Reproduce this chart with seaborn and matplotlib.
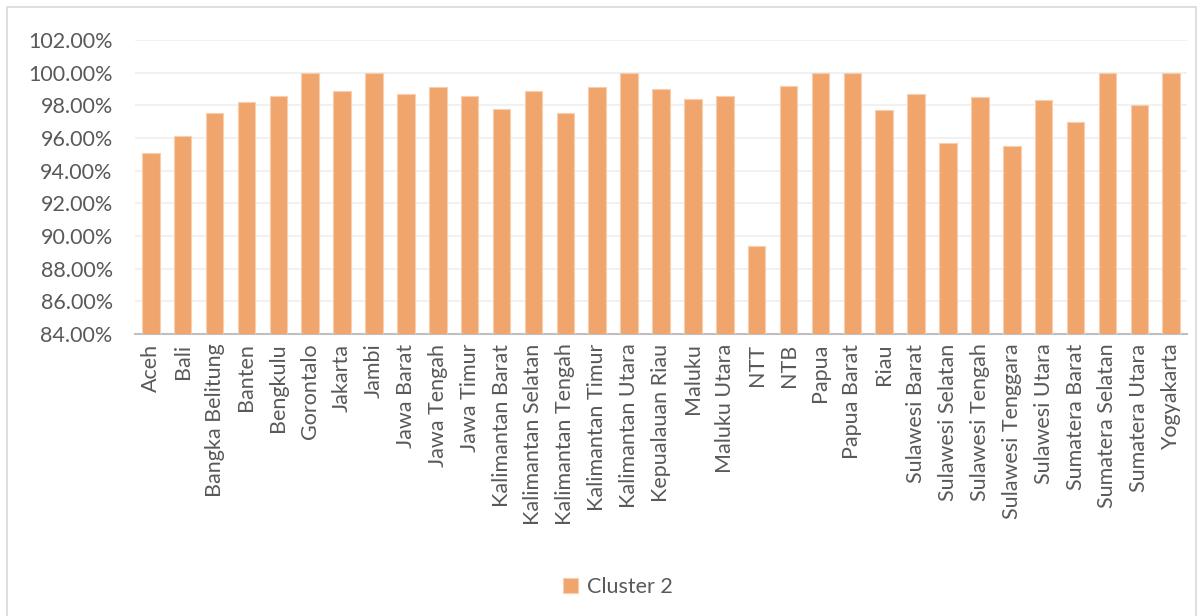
import pandas as pd
import seaborn as sns
import matplotlib.pyplot as plt
from matplotlib.patches import Rectangle
from matplotlib.ticker import FuncFormatter

provinces = ["Aceh", "Bali", "Bangka Belitung", "Banten", "Bengkulu", "Gorontalo",
             "Jakarta", "Jambi", "Jawa Barat", "Jawa Tengah", "Jawa Timur",
             "Kalimantan Barat", "Kalimantan Selatan", "Kalimantan Tengah",
             "Kalimantan Timur", "Kalimantan Utara", "Kepualauan Riau", "Maluku",
             "Maluku Utara", "NTT", "NTB", "Papua", "Papua Barat", "Riau",
             "Sulawesi Barat", "Sulawesi Selatan", "Sulawesi Tengah",
             "Sulawesi Tenggara", "Sulawesi Utara", "Sumatera Barat",
             "Sumatera Selatan", "Sumatera Utara", "Yogyakarta"]
cluster2 = [0.951, 0.961, 0.975, 0.982, 0.986, 1.000, 0.989, 1.000, 0.987, 0.991,
            0.986, 0.978, 0.989, 0.975, 0.991, 1.000, 0.990, 0.984, 0.986, 0.894,
            0.992, 1.000, 1.000, 0.977, 0.987, 0.957, 0.985, 0.955, 0.983, 0.970,
            1.000, 0.980, 1.000]
series_name = "Cluster 2"

df = pd.DataFrame({"provinsi": provinces, "nilai": cluster2, "seri": series_name})

sns.set_theme(style="white")
plt.rcParams["font.family"] = ["Lato", "DejaVu Sans"]

fig = plt.figure(figsize=(12.04, 6.16), dpi=100)
ax = fig.add_axes([0.112, 0.458, 0.874, 0.477])

sns.barplot(data=df, x="provinsi", y="nilai", hue="seri", palette=["#F0A56D"],
            saturation=1, width=0.55, edgecolor="#F8CFAE", linewidth=0.8,
            ax=ax, zorder=3)

ax.set_ylim(0.84, 1.02)
ax.set_yticks([0.84 + 0.02 * i for i in range(10)])
ax.yaxis.set_major_formatter(FuncFormatter(lambda v, p: f"{v * 100:.2f}%"))
ax.set_xlim(-0.5, len(provinces) - 0.5)
ax.grid(axis="y", color="#EFEFEF", linewidth=1.2, zorder=0)
ax.set_xlabel("")
ax.set_ylabel("")
for s in ["top", "right", "left"]:
    ax.spines[s].set_visible(False)
ax.spines["bottom"].set_color("#BFBFBF")
ax.spines["bottom"].set_linewidth(1.5)
ax.tick_params(axis="both", length=0, colors="#595959", labelsize=15.5)
ax.tick_params(axis="x", rotation=90, pad=7)
ax.tick_params(axis="y", pad=16)

sns.move_legend(ax, "center", bbox_to_anchor=(0.513, 0.047),
                bbox_transform=fig.transFigure, frameon=False, title=None,
                fontsize=15.5, handlelength=0.7, handleheight=0.7, handletextpad=0.4)
for t in ax.get_legend().get_texts():
    t.set_color("#595959")

fig.patches.append(Rectangle((7 / 1204, -0.01), 1189 / 1204, 1 - 7 / 616 + 0.01,
                             transform=fig.transFigure, fill=False,
                             edgecolor="#D9D9D9", linewidth=1.2))

fig.savefig("out.png", dpi=100)
